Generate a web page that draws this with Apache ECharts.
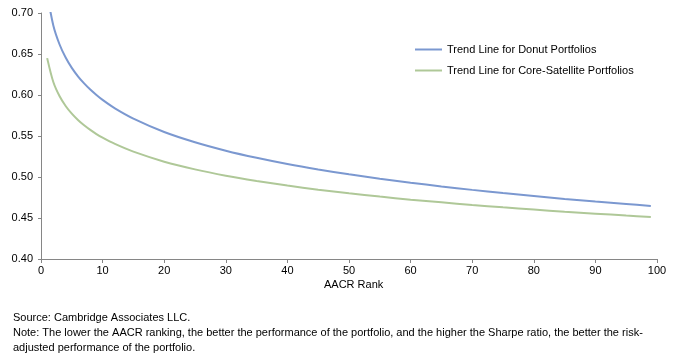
<!DOCTYPE html>
<html>
<head>
<meta charset="utf-8">
<script src="https://cdn.jsdelivr.net/npm/echarts@6/dist/echarts.min.js"></script>
<style>
html,body{margin:0;padding:0;background:#fff;}
#chart{width:673px;height:364px;}
</style>
</head>
<body>
<div id="chart"></div>
<script>
var ranks = [1,2,3,4,5,6,7,8,9,10,12,15,20,25,30,35,40,45,50,55,60,65,70,75,80,85,90,95,99];
var donut = [0.7239,0.6848,0.6619,0.6457,0.6331,0.6228,0.6141,0.6066,0.6000,0.5940,0.5837,0.5712,0.5549,0.5424,0.5321,0.5234,0.5158,0.5092,0.5033,0.4979,0.4930,0.4885,0.4843,0.4804,0.4768,0.4733,0.4701,0.4671,0.4647];
var coreSat = [0.6450,0.6158,0.5987,0.5866,0.5772,0.5695,0.5630,0.5574,0.5524,0.5479,0.5403,0.5309,0.5187,0.5093,0.5016,0.4952,0.4895,0.4845,0.4801,0.4761,0.4724,0.4691,0.4659,0.4630,0.4603,0.4577,0.4553,0.4530,0.4513];
var seriesNames = ['Trend Line for Donut Portfolios','Trend Line for Core-Satellite Portfolios'];
var xTitle = 'AACR Rank';
var sourceText = 'Source: Cambridge Associates LLC.';
var noteText1 = 'Note: The lower the AACR ranking, the better the performance of the portfolio, and the higher the Sharpe ratio, the better the risk-';
var noteText2 = 'adjusted performance of the portfolio.';

function pairs(xs, ys){ return xs.map(function(x,i){return [x, ys[i]];}); }

var font = 'Liberation Sans, Arial, sans-serif';
var chart = echarts.init(document.getElementById('chart'), null, {renderer:'canvas'});
chart.setOption({
  animation:false,
  backgroundColor:'#fff',
  grid:{left:41,right:16,top:13,bottom:105,containLabel:false},
  legend:{
    orient:'vertical', left:410, top:39, itemGap:10,
    itemWidth:27, itemHeight:10,
    icon:'path://M0,4L27,4L27,6L0,6Z',
    textStyle:{fontFamily:font,fontSize:11,color:'#000'},
    data:seriesNames
  },
  xAxis:{
    type:'value', min:0, max:100, interval:10,
    axisLine:{show:true,lineStyle:{color:'#868686',width:1}},
    axisTick:{show:true,length:4,lineStyle:{color:'#868686'}},
    axisLabel:{fontFamily:font,fontSize:11,color:'#000',margin:6},
    splitLine:{show:false}
  },
  yAxis:{
    type:'value', min:0.40, max:0.70, interval:0.05,
    axisLine:{show:true,lineStyle:{color:'#868686',width:1}},
    axisTick:{show:true,length:3,lineStyle:{color:'#868686'}},
    axisLabel:{fontFamily:font,fontSize:11,color:'#000',margin:8,formatter:function(v){return v.toFixed(2);}},
    splitLine:{show:false}
  },
  series:[
    {name:seriesNames[0],type:'line',data:pairs(ranks,donut),showSymbol:false,smooth:0.3,clip:true,
     lineStyle:{color:'#7B98D0',width:2},itemStyle:{color:'#7B98D0'}},
    {name:seriesNames[1],type:'line',data:pairs(ranks,coreSat),showSymbol:false,smooth:0.3,clip:true,
     lineStyle:{color:'#AFC898',width:2},itemStyle:{color:'#AFC898'}}
  ],
  graphic:[
    {type:'text',left:324,top:279,style:{text:xTitle,font:'11px '+font,fill:'#000'}},
    {type:'text',left:13,top:312,style:{text:sourceText,font:'11px '+font,fill:'#000'}},
    {type:'text',left:13,top:327,style:{text:noteText1,font:'11px '+font,fill:'#000'}},
    {type:'text',left:13,top:342,style:{text:noteText2,font:'11px '+font,fill:'#000'}}
  ]
});
</script>
</body>
</html>
